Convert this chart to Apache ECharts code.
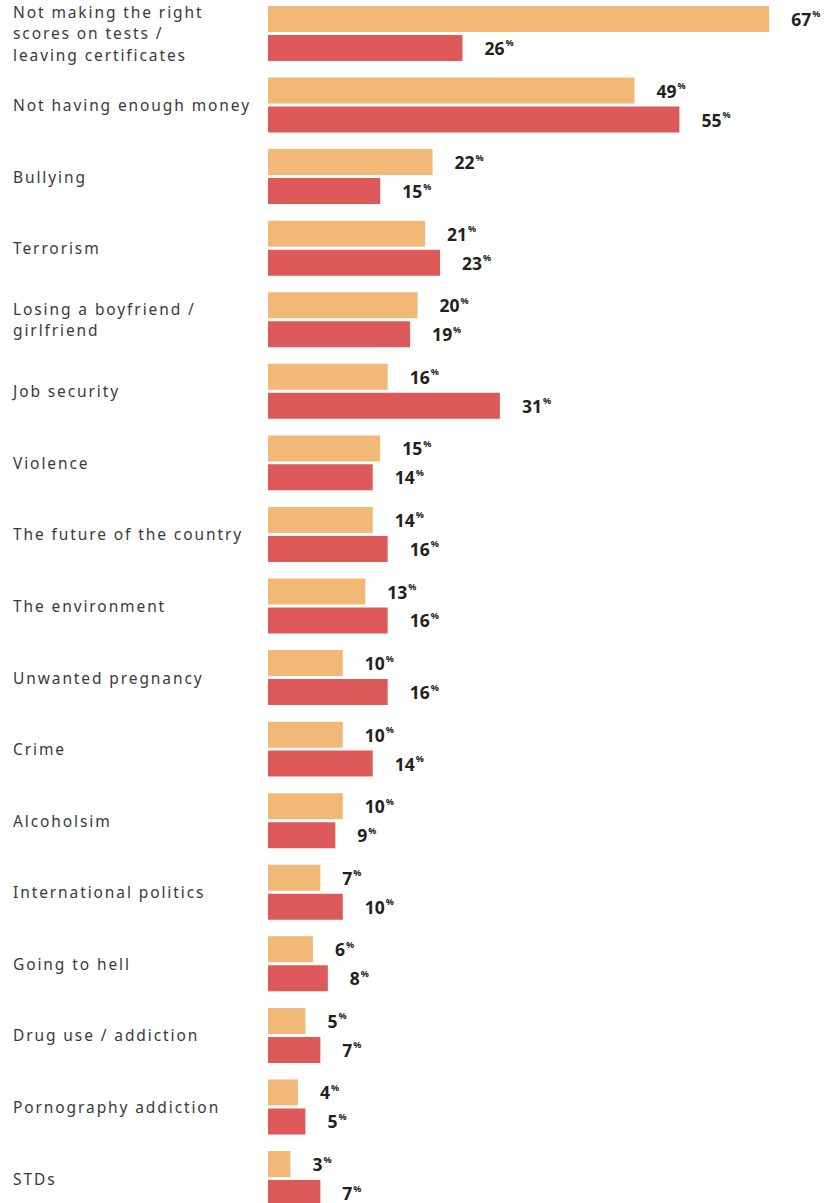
<!DOCTYPE html>
<html>
<head>
<meta charset="utf-8">
<script src="https://cdn.jsdelivr.net/npm/echarts@6/dist/echarts.min.js"></script>
<style>
  html, body { margin: 0; padding: 0; background: #fff; }
  #chart { width: 830px; height: 1203px; }
  /* tracked-out category labels */
  #chart text[style*="Noto Sans"] { letter-spacing: 1.9px; }
</style>
</head>
<body>
<div id="chart"></div>
<script>
// Worries, share of respondents (%)
const categories = [
  'Not making the right\nscores on tests /\nleaving certificates',
  'Not having enough money',
  'Bullying',
  'Terrorism',
  'Losing a boyfriend /\ngirlfriend',
  'Job security',
  'Violence',
  'The future of the country',
  'The environment',
  'Unwanted pregnancy',
  'Crime',
  'Alcoholsim',
  'International politics',
  'Going to hell',
  'Drug use / addiction',
  'Pornography addiction',
  'STDs'
];
const groupA = [67, 49, 22, 21, 20, 16, 15, 14, 13, 10, 10, 10, 7, 6, 5, 4, 3];
const groupB = [26, 55, 15, 23, 19, 31, 14, 16, 16, 16, 14, 9, 10, 8, 7, 5, 7];

const chart = echarts.init(document.getElementById('chart'), null, { renderer: 'svg' });

const valueLabel = {
  show: true,
  position: 'right',
  distance: 22,
  formatter: p => '{v|' + p.value + '}{p|%}',
  rich: {
    v: { fontFamily: 'Open Sans', fontWeight: 'bold', fontSize: 17.5, color: '#231f20' },
    p: { fontFamily: 'Open Sans', fontWeight: 'bold', fontSize: 9, color: '#231f20', padding: [0, 0, 10, 1] }
  }
};

chart.setOption({
  animation: false,
  grid: { left: 268, top: -2.3, width: 561, height: 1216.6, outerBoundsMode: 'none' },
  xAxis: {
    type: 'value', min: 0, max: 75,
    show: false
  },
  yAxis: {
    type: 'category',
    data: categories,
    inverse: true,
    axisLine: { show: false },
    axisTick: { show: false },
    splitLine: { show: false },
    axisLabel: {
      align: 'left',
      margin: 255,
      fontFamily: 'Noto Sans',
      fontSize: 15.5,
      lineHeight: 21.5,
      color: '#3a3a3a'
    }
  },
  series: [
    {
      name: 'A', type: 'bar', data: groupA,
      barWidth: 26, barGap: '11.5%',
      itemStyle: { color: '#F1B878' },
      label: valueLabel
    },
    {
      name: 'B', type: 'bar', data: groupB,
      barWidth: 26,
      itemStyle: { color: '#DE5A5A' },
      label: valueLabel
    }
  ]
});
</script>
</body>
</html>
